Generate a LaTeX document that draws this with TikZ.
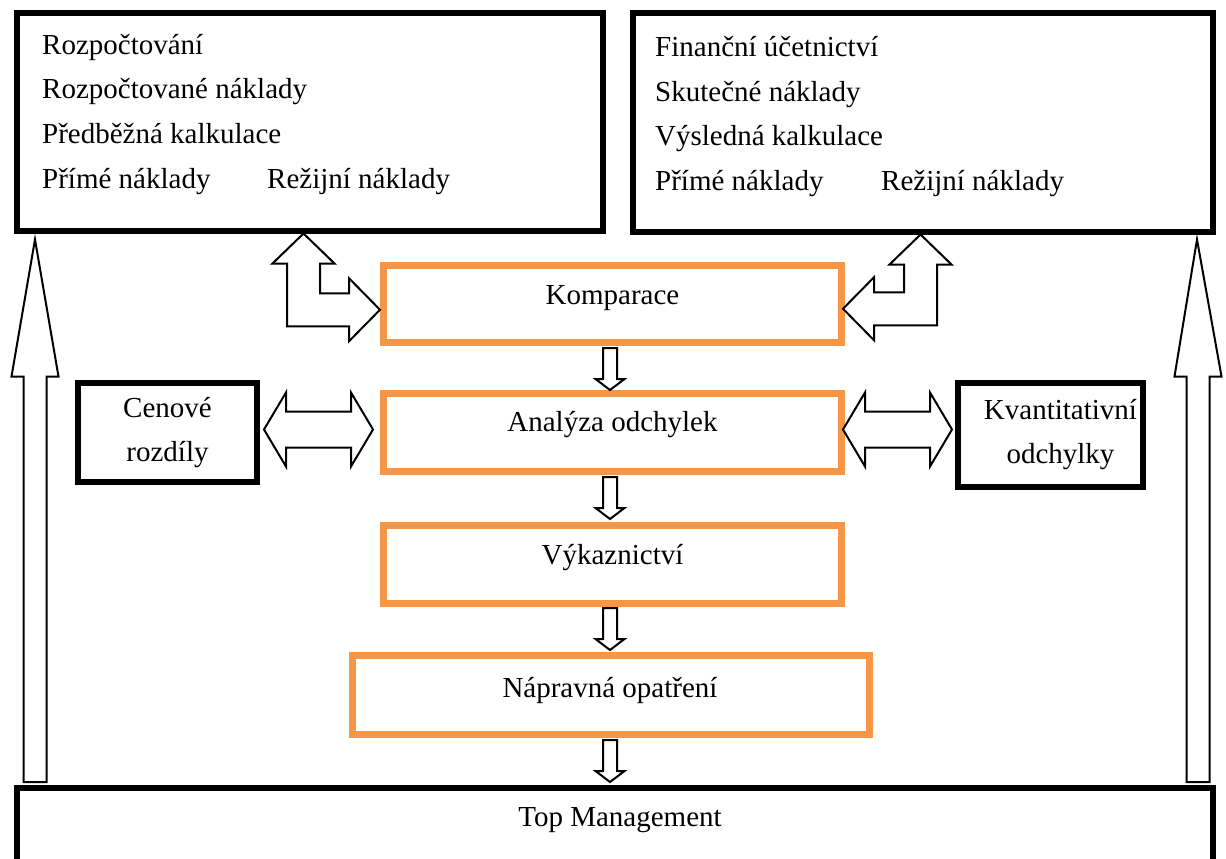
\documentclass[tikz,border=0pt]{standalone}
\usepackage{fontspec}
\setmainfont{Liberation Serif}
\usetikzlibrary{calc}
\definecolor{accent}{HTML}{F79646}

\tikzset{
  blackbox/.style={draw=black, line width=6pt, fill=white, inner sep=0pt, align=center},
  orangebox/.style={draw=accent, line width=7pt, fill=white, inner sep=0pt},
  txt/.style={inner sep=0pt, anchor=base west},
  blockline/.style={draw=black, line width=2pt, fill=white, line join=miter},
  % small block arrow pointing down
  downblock/.style={blockline, to path={
    let \p1=(\tikztostart), \p2=(\tikztotarget) in
    (\x1-7pt,\y1) -- (\x1+7pt,\y1) -- (\x1+7pt,\y2+11pt) -- (\x1+14.5pt,\y2+11pt)
    -- (\x1,\y2) -- (\x1-14.5pt,\y2+11pt) -- (\x1-7pt,\y2+11pt) -- cycle}},
  % tall block arrow pointing up
  upblock/.style={blockline, to path={
    let \p1=(\tikztostart), \p2=(\tikztotarget) in
    (\x1-11.5pt,\y1) -- (\x1-11.5pt,\y2-137pt) -- (\x1-23.5pt,\y2-137pt)
    -- (\x2,\y2) -- (\x1+23.5pt,\y2-137pt) -- (\x1+11.5pt,\y2-137pt)
    -- (\x1+11.5pt,\y1) -- cycle}},
  % horizontal block arrow with heads on both ends
  twinblock/.style={blockline, to path={
    let \p1=(\tikztostart), \p2=(\tikztotarget) in
    (\x1,\y1) -- (\x1+22pt,\y1+37pt) -- (\x1+22pt,\y1+18pt) -- (\x2-22pt,\y1+18pt)
    -- (\x2-22pt,\y1+37pt) -- (\x2,\y1) -- (\x2-22pt,\y1-37pt) -- (\x2-22pt,\y1-18pt)
    -- (\x1+22pt,\y1-18pt) -- (\x1+22pt,\y1-37pt) -- cycle}},
  % bent two-headed arrow: up, then turning right
  elbowright/.style={blockline, to path={
    let \p1=(\tikztostart), \p2=(\tikztotarget) in
    (\x1,\y1) -- (\x1+31pt,\y1-30pt) -- (\x1+16.5pt,\y1-30pt) -- (\x1+16.5pt,\y2+16.5pt)
    -- (\x2-31pt,\y2+16.5pt) -- (\x2-31pt,\y2+31.5pt) -- (\x2,\y2)
    -- (\x2-31pt,\y2-31.5pt) -- (\x2-31pt,\y2-16.5pt) -- (\x1-16.5pt,\y2-16.5pt)
    -- (\x1-16.5pt,\y1-30pt) -- (\x1-31pt,\y1-30pt) -- cycle}},
  % bent two-headed arrow: up, then turning left
  elbowleft/.style={blockline, to path={
    let \p1=(\tikztostart), \p2=(\tikztotarget) in
    (\x1,\y1) -- (\x1-31pt,\y1-30pt) -- (\x1-16.5pt,\y1-30pt) -- (\x1-16.5pt,\y2+16.5pt)
    -- (\x2+31pt,\y2+16.5pt) -- (\x2+31pt,\y2+31.5pt) -- (\x2,\y2)
    -- (\x2+31pt,\y2-31.5pt) -- (\x2+31pt,\y2-16.5pt) -- (\x1+16.5pt,\y2-16.5pt)
    -- (\x1+16.5pt,\y1-30pt) -- (\x1+31pt,\y1-30pt) -- cycle}},
}

\begin{document}
\begin{tikzpicture}[x=1pt, y=-1pt, font=\fontsize{29pt}{44pt}\selectfont]
\useasboundingbox (0,0) rectangle (1226,859);
\clip (0,0) rectangle (1226,859);

% budget side
\node[blackbox, minimum width=586pt, minimum height=217.5pt] (budget) at (310,121.75) {};
\node[txt] (b1) at (42,55) {Rozpočtování};
\node[txt] (b2) at (42,99) {Rozpočtované náklady};
\node[txt] (b3) at (42,143) {Předběžná kalkulace};
\node[txt] (b4) at (42,188) {Přímé náklady};
\node[txt] (b5) at (267,188) {Režijní náklady};

% accounting side
\node[blackbox, minimum width=580pt, minimum height=218.5pt] (actual) at (923,122.25) {};
\node[txt] (a1) at (655,57) {Finanční účetnictví};
\node[txt] (a2) at (655,101) {Skutečné náklady};
\node[txt] (a3) at (655,145) {Výsledná kalkulace};
\node[txt] (a4) at (655,190) {Přímé náklady};
\node[txt] (a5) at (881,190) {Režijní náklady};

% process steps
\node[orangebox, minimum width=458pt, minimum height=77.5pt,
      label={[yshift=6pt]center:Komparace}] (komp) at (612.5,303.75) {};
\node[orangebox, minimum width=458pt, minimum height=78pt,
      label={[yshift=8pt]center:Analýza odchylek}] (anal) at (612.5,432.5) {};
\node[orangebox, minimum width=458pt, minimum height=78pt,
      label={[yshift=7pt]center:Výkaznictví}] (vyk) at (612.5,564.5) {};
\node[orangebox, minimum width=517.5pt, minimum height=79pt,
      label={[xshift=-1pt,yshift=5pt]center:Nápravná opatření}] (naprava) at (611,695) {};

% variance types
\node[blackbox, minimum width=179pt, minimum height=99pt] (cen) at (167.5,432.5) {Cenové\\rozdíly};
\node[blackbox, minimum width=185pt, minimum height=104pt,
      label={[xshift=10pt, align=center]center:Kvantitativní\\odchylky}] (kvant) at (1050.5,435) {};

% management
\node[blackbox, minimum width=1196pt, minimum height=224pt] (mgmt) at (615,900) {};
\node (mgmttext) at (620,820) {Top Management};

% block arrows
\draw[upblock] ($(mgmt.north west)+(21,-3)$) to ($(budget.south west)+(21,6)$);
\draw[upblock] ($(mgmt.north east)+(-18,-3)$) to ($(actual.south east)+(-19,5)$);

\draw[elbowright] ([xshift=-6.5pt]budget.south) to ([yshift=-6pt]komp.west);
\draw[elbowleft] ([xshift=-2.5pt]actual.south) to ([xshift=-2pt,yshift=-5pt]komp.east);

\draw[twinblock] ([xshift=4pt,yshift=3pt]cen.east) to ([xshift=-7pt]anal.west);
\draw[twinblock] ([xshift=-2pt,yshift=3pt]anal.east) to ([xshift=-3pt]kvant.west);

\draw[downblock] ([xshift=-2.5pt,yshift=-2pt]komp.south) to (anal.north);
\draw[downblock] ([xshift=-2.5pt,yshift=-2pt]anal.south) to ([yshift=3pt]vyk.north);
\draw[downblock] ([xshift=-2.5pt,yshift=-1pt]vyk.south) to ([yshift=2pt]naprava.north);
\draw[downblock] ([xshift=-1pt,yshift=-2pt]naprava.south) to ([yshift=3pt]mgmt.north);
\end{tikzpicture}
\end{document}
